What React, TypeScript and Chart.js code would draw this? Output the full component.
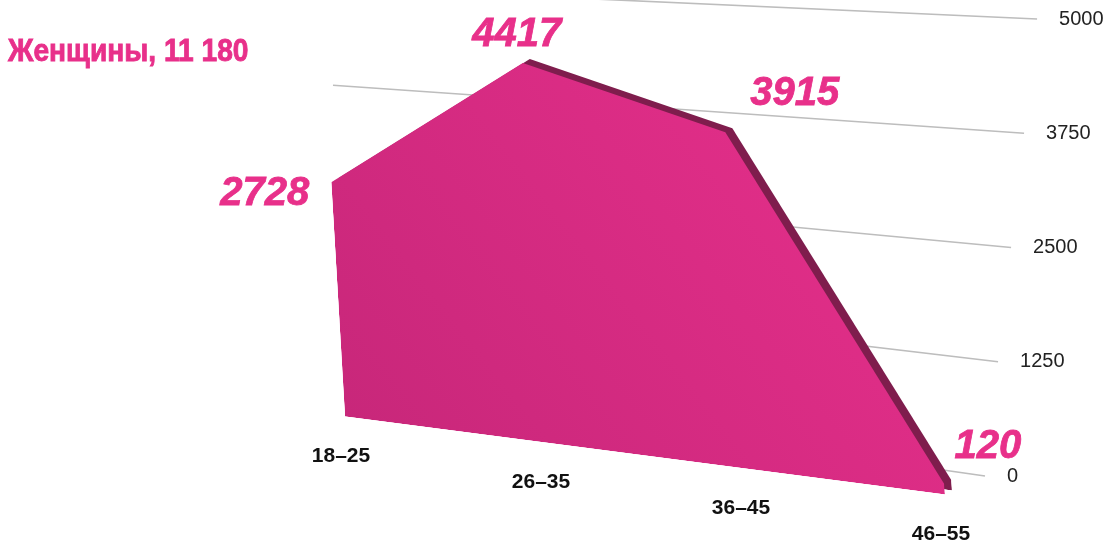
import React, { useEffect, useRef } from 'react';
import { Chart, registerables } from 'chart.js';

Chart.register(...registerables);

// ---- data ----
const TITLE = 'Женщины, 11 180';
const AGE_GROUPS = ['18–25', '26–35', '36–45', '46–55'];
const WOMEN = [2728, 4417, 3915, 120];
const Y_MIN = 0;
const Y_MAX = 5000;
const Y_STEP = 1250;

// ---- styles ----
const PINK = '#e8308a';
const FILL_LOW = '#c8277a';
const FILL_HIGH = '#e8308c';
const EDGE = '#7f1d4d';
const GRID = '#bdbdbd';
const AXIS_TEXT = '#222222';
const SANS = '"Liberation Sans", Arial, Helvetica, sans-serif';

// "3D" view of the flat plot: tilt (affine) + extrusion + back wall
const TILT = { slope: 0.13, lean: 0.055, squash: 0.94, lift: 0.13 };
const EXTRUDE = { dx: 7.3, dy: -5.3 };
const WALL = { gap: 40, lean: 0.114, vanishX: -3700, vanishY: -195, start: -12, labelGap: 22 };
const X_LABEL = { dx: -4, dy: 40 };
const VALUE_LABEL = [
  { align: 'right', dx: -22, dy: 12 },
  { align: 'center', dx: -6, dy: -28 },
  { align: 'left', dx: 25, dy: -38 },
  { align: 'left', dx: 10, dy: -37 },
];
const TITLE_STYLE = { x: 8, y: 61, size: 32, squeeze: 0.88 };

type M = { a: number; b: number; c: number; d: number; e: number; f: number };

function tiltMatrix(chart: any): M {
  const xs = chart.scales.x;
  const ys = chart.scales.y;
  const xa = xs.getPixelForValue(0);
  const ya = ys.getPixelForValue(0);
  const lift = TILT.lift * chart.chartArea.height;
  return {
    a: 1,
    b: TILT.slope,
    c: TILT.lean,
    d: TILT.squash,
    e: -TILT.lean * ya,
    f: ya - lift - TILT.slope * xa - TILT.squash * ya,
  };
}

function project(m: M, px: number, py: number) {
  return { x: m.a * px + m.c * py + m.e, y: m.b * px + m.d * py + m.f };
}

const view3d = {
  id: 'view3d',
  beforeDatasetsDraw(chart: any) {
    const ctx = chart.ctx;
    const ca = chart.chartArea;
    const ys = chart.scales.y;
    const ya = ys.getPixelForValue(0);
    const topValue = WOMEN[0];

    // back wall grid + value ticks
    ctx.save();
    ctx.strokeStyle = GRID;
    ctx.lineWidth = 1.6;
    ctx.fillStyle = AXIS_TEXT;
    ctx.font = '20px ' + SANS;
    ctx.textAlign = 'left';
    ctx.textBaseline = 'middle';
    for (const t of ys.ticks) {
      const yEnd = ys.getPixelForValue(t.value);
      const xEnd = ca.right + WALL.gap + WALL.lean * (ya - yEnd);
      const slope = (yEnd - WALL.vanishY) / (xEnd - WALL.vanishX);
      // lines that pass behind the first column start at the plot edge
      const xStart = ca.left + (t.value > topValue ? WALL.start : 0);
      ctx.beginPath();
      ctx.moveTo(xStart, yEnd - slope * (xEnd - xStart));
      ctx.lineTo(xEnd, yEnd);
      ctx.stroke();
      ctx.fillText(String(t.value), xEnd + WALL.labelGap, yEnd);
    }
    ctx.restore();

    const m = tiltMatrix(chart);
    ctx.save();
    ctx.transform(m.a, m.b, m.c, m.d, m.e, m.f);
    ctx.save();
    ctx.translate(EXTRUDE.dx, EXTRUDE.dy);
  },
  afterDatasetDraw(chart: any, args: any) {
    if (args.index === 0) chart.ctx.restore();
  },
  afterDatasetsDraw(chart: any) {
    const ctx = chart.ctx;
    ctx.restore();
    const m = tiltMatrix(chart);
    const xs = chart.scales.x;
    const ys = chart.scales.y;
    const ya = ys.getPixelForValue(0);

    // category labels on the floor edge
    ctx.save();
    ctx.fillStyle = '#111';
    ctx.font = 'bold 21px ' + SANS;
    ctx.textAlign = 'center';
    ctx.textBaseline = 'middle';
    AGE_GROUPS.forEach((lab, i) => {
      const p = project(m, xs.getPixelForValue(i), ya);
      ctx.fillText(lab, p.x + X_LABEL.dx, p.y + X_LABEL.dy);
    });
    ctx.restore();

    // value labels
    const meta = chart.getDatasetMeta(1);
    ctx.save();
    ctx.fillStyle = PINK;
    ctx.strokeStyle = PINK;
    ctx.lineWidth = 0.8;
    ctx.font = 'italic bold 40px ' + SANS;
    ctx.textBaseline = 'middle';
    meta.data.forEach((pt: any, i: number) => {
      const p = project(m, pt.x, pt.y);
      const place = VALUE_LABEL[i];
      ctx.textAlign = place.align;
      ctx.fillText(String(WOMEN[i]), p.x + place.dx, p.y + place.dy);
      ctx.strokeText(String(WOMEN[i]), p.x + place.dx, p.y + place.dy);
    });
    ctx.restore();

    // title (condensed)
    ctx.save();
    ctx.fillStyle = PINK;
    ctx.strokeStyle = PINK;
    ctx.lineWidth = 0.9;
    ctx.font = 'bold ' + TITLE_STYLE.size + 'px ' + SANS;
    ctx.textAlign = 'left';
    ctx.textBaseline = 'alphabetic';
    ctx.translate(TITLE_STYLE.x, TITLE_STYLE.y);
    ctx.scale(TITLE_STYLE.squeeze, 1);
    ctx.fillText(TITLE, 0, 0);
    ctx.strokeText(TITLE, 0, 0);
    ctx.restore();
  },
};

export default function App() {
  const ref = useRef<HTMLCanvasElement | null>(null);

  useEffect(() => {
    if (!ref.current) return;
    const chart = new Chart(ref.current, {
      type: 'line',
      data: {
        labels: AGE_GROUPS,
        datasets: [
          {
            label: 'edge',
            data: WOMEN,
            order: 1,
            fill: 'origin',
            backgroundColor: EDGE,
            borderWidth: 0,
            pointRadius: 0,
            tension: 0,
            clip: false,
          },
          {
            label: 'Женщины',
            data: WOMEN,
            order: 0,
            fill: 'origin',
            backgroundColor: (c: any) => {
              const ch = c.chart;
              const ca = ch.chartArea;
              if (!ca) return PINK;
              const g = ch.ctx.createLinearGradient(ca.left, ca.bottom, ca.right, ca.top);
              g.addColorStop(0, FILL_LOW);
              g.addColorStop(1, FILL_HIGH);
              return g;
            },
            borderWidth: 0,
            pointRadius: 0,
            tension: 0,
            clip: false,
          },
        ],
      },
      options: {
        animation: false,
        responsive: true,
        maintainAspectRatio: false,
        events: [],
        layout: { padding: { left: 345, right: 162, top: 19, bottom: 74 } },
        plugins: { legend: { display: false }, tooltip: { enabled: false }, title: { display: false } },
        scales: {
          x: { display: false, offset: false },
          y: {
            display: true,
            min: Y_MIN,
            max: Y_MAX,
            ticks: { display: false, stepSize: Y_STEP },
            grid: { display: false, drawTicks: false },
            border: { display: false },
          },
        },
      },
      plugins: [view3d],
    } as any);
    return () => chart.destroy();
  }, []);

  return (
    <div style={{ position: 'absolute', left: 0, top: 0, width: 1107, height: 550, background: '#fff' }}>
      <canvas ref={ref} />
    </div>
  );
}
